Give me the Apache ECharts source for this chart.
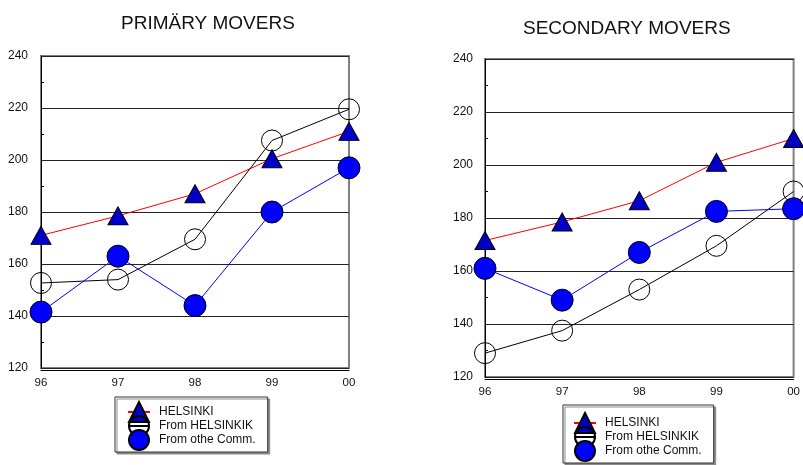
<!DOCTYPE html>
<html>
<head>
<meta charset="utf-8">
<script src="https://cdn.jsdelivr.net/npm/echarts@6/dist/echarts.min.js"></script>
<style>
  html, body { margin: 0; padding: 0; background: #fff; }
  #chart { width: 803px; height: 465px; }
</style>
</head>
<body>
<div id="chart"></div>
<script>
// Years on the horizontal axis
const years = ['96', '97', '98', '99', '00'];

// Panel titles and series names
const panelTitles = ['PRIMÄRY MOVERS', 'SECONDARY MOVERS'];
const seriesNames = ['HELSINKI', 'From HELSINKIK', 'From othe Comm.'];

// Primary movers
const primaryHelsinki     = [171, 178.5, 187, 200.5, 211];
const primaryFromHelsinki = [152.7, 154, 169.5, 207.5, 219.5];
const primaryFromOther    = [141.5, 163, 144, 180, 197];

// Secondary movers
const secondaryHelsinki     = [171.5, 178.5, 186.5, 201, 210];
const secondaryFromHelsinki = [129, 137.5, 153, 169.5, 190];
const secondaryFromOther    = [161, 149, 167, 182.5, 183.5];

// Value axis range
const yMin = 120;
const yMax = 240;
const yStep = 20;

const FONT = '"Liberation Sans", Arial, sans-serif';

const chart = echarts.init(document.getElementById('chart'), null, { renderer: 'canvas' });

function xAxisFor(gridIndex, margin) {
  return {
    type: 'category',
    gridIndex: gridIndex,
    data: years,
    boundaryGap: false,
    offset: 2,
    axisLine: { show: true, lineStyle: { color: '#000', width: 1 } },
    axisTick: { show: false },
    axisLabel: { color: '#111', fontFamily: FONT, fontSize: 11.5, margin: margin },
    splitLine: { show: false }
  };
}

function yAxisFor(gridIndex, margin) {
  return {
    type: 'value',
    gridIndex: gridIndex,
    min: yMin,
    max: yMax,
    interval: yStep,
    axisLine: { show: true, lineStyle: { color: '#000', width: 1 } },
    // major ticks are hidden under the grid lines; inside:true turns the minor ticks inward
    axisTick: { show: true, inside: true, length: 0, lineStyle: { color: '#000' } },
    minorTick: { show: true, splitNumber: 2, length: 3, lineStyle: { color: '#000' } },
    axisLabel: { color: '#111', fontFamily: FONT, fontSize: 12, margin: margin },
    splitLine: { show: true, lineStyle: { color: '#222', width: 1 } }
  };
}

function seriesFor(idx, helsinki, fromHelsinki, fromOther) {
  return [
    {
      name: seriesNames[0],
      type: 'line',
      xAxisIndex: idx,
      yAxisIndex: idx,
      data: helsinki,
      symbol: 'triangle',
      symbolSize: [20, 18],
      lineStyle: { color: '#ff0000', width: 1 },
      itemStyle: { color: '#0000c8', borderColor: '#000', borderWidth: 1 },
      emphasis: { disabled: true }
    },
    {
      name: seriesNames[1],
      type: 'line',
      xAxisIndex: idx,
      yAxisIndex: idx,
      data: fromHelsinki,
      symbol: 'circle',
      symbolSize: 21,
      lineStyle: { color: '#000', width: 1 },
      itemStyle: { color: 'rgba(255,255,255,0)', borderColor: '#000', borderWidth: 1 },
      emphasis: { disabled: true }
    },
    {
      name: seriesNames[2],
      type: 'line',
      xAxisIndex: idx,
      yAxisIndex: idx,
      data: fromOther,
      symbol: 'circle',
      symbolSize: 22,
      lineStyle: { color: '#0000ff', width: 1 },
      itemStyle: { color: '#0000ff', borderColor: '#000', borderWidth: 1 },
      emphasis: { disabled: true }
    }
  ];
}

function legendFor(left, top, padding) {
  return {
    left: left,
    top: top,
    orient: 'vertical',
    data: seriesNames,
    selectedMode: false,
    itemWidth: 22,
    itemHeight: 25,
    itemGap: -8,
    padding: padding,
    backgroundColor: '#fff',
    borderColor: '#333',
    borderWidth: 1,
    shadowColor: '#8a8a8a',
    shadowBlur: 0,
    shadowOffsetX: 2,
    shadowOffsetY: 2,
    textStyle: { color: '#111', fontFamily: FONT, fontSize: 12, padding: [0, 0, 0, 4] }
  };
}

const option = {
  animation: false,
  backgroundColor: '#fff',
  title: [
    {
      text: panelTitles[0],
      left: 116,
      top: 9,
      textStyle: { color: '#111', fontFamily: FONT, fontSize: 19, fontWeight: 'normal' }
    },
    {
      text: panelTitles[1],
      left: 518,
      top: 14,
      textStyle: { color: '#111', fontFamily: FONT, fontSize: 19, fontWeight: 'normal' }
    }
  ],
  grid: [
    { left: 41, top: 56, width: 308, height: 312, show: true, borderColor: '#808080', borderWidth: 2, containLabel: false },
    { left: 485, top: 59, width: 312, height: 318, show: true, borderColor: '#808080', borderWidth: 2, containLabel: false }
  ],
  xAxis: [xAxisFor(0, 7), xAxisFor(1, 7)],
  yAxis: [yAxisFor(0, 13), yAxisFor(1, 12)],
  legend: [
    legendFor(115, 397, [4, 12, 1, 12]),
    legendFor(563, 405, [7, 12, 1, 10])
  ],
  series: [].concat(
    seriesFor(0, primaryHelsinki, primaryFromHelsinki, primaryFromOther),
    seriesFor(1, secondaryHelsinki, secondaryFromHelsinki, secondaryFromOther)
  )
};

chart.setOption(option);
</script>
</body>
</html>
